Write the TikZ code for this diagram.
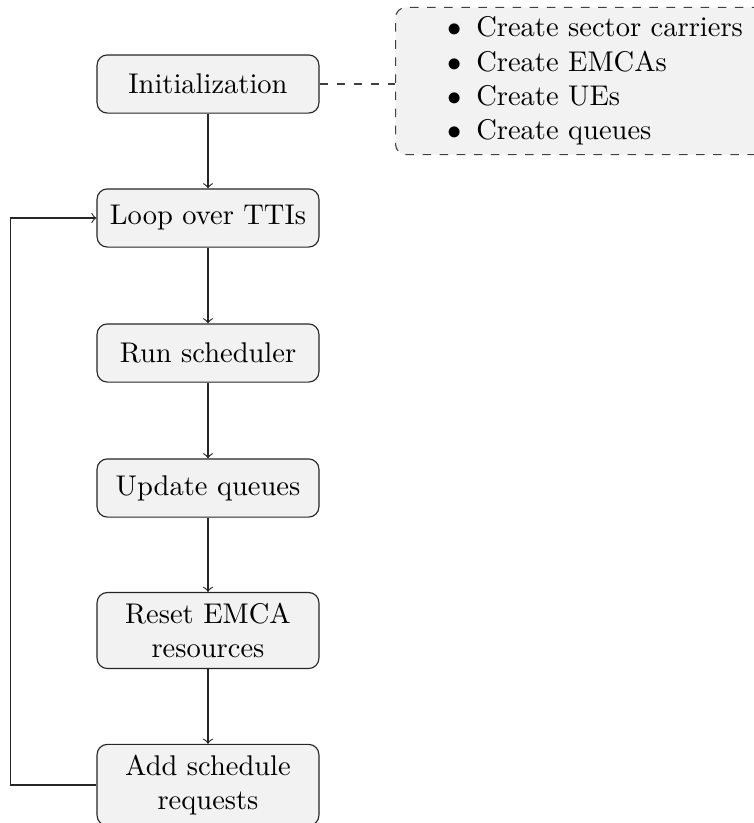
\documentclass[tikz,border=0pt]{standalone}
\usetikzlibrary{positioning}
\begin{document}
\begin{tikzpicture}[x=0.3509pt, y=-0.3509pt,
  stepbox/.style={draw=black!85, fill=black!5, rounded corners=3.6pt, line width=0.4pt,
    text width=71.2pt, align=center, minimum height=20.4pt, inner xsep=3.33pt, inner ysep=3.7pt},
  flow/.style={->, draw=black!85, line width=0.4pt},
  notebox/.style={draw=black!75, dashed, fill=black!5, rounded corners=3.6pt, line width=0.4pt,
    inner sep=3.33pt, align=left, text width=125pt}
]
\useasboundingbox (0,0) rectangle (753,823);
\node[stepbox] (init) at (208,84) {Initialization};
\node[stepbox] (loop) at (208,218) {Loop over TTIs};
\node[stepbox] (run) at (208,353) {Run scheduler};
\node[stepbox] (upd) at (208,488) {Update queues};
\node[stepbox] (reset) at (208,630.5) {Reset EMCA resources};
\node[stepbox] (add) at (208,785) {Add schedule requests};
\node[notebox, anchor=west] (list) at (395,81) {%
  \makebox[20pt][r]{$\bullet$}\hspace{5pt}Create sector carriers\\
  \makebox[20pt][r]{$\bullet$}\hspace{5pt}Create EMCAs\\
  \makebox[20pt][r]{$\bullet$}\hspace{5pt}Create UEs\\
  \makebox[20pt][r]{$\bullet$}\hspace{5pt}Create queues};
\draw[dashed, draw=black!75, line width=0.4pt] (init.east) -- (init.east -| list.west);
\draw[flow] (init) -- (loop);
\draw[flow] (loop) -- (run);
\draw[flow] (run) -- (upd);
\draw[flow] (upd) -- (reset);
\draw[flow] (reset) -- (add);
\draw[flow] (add.west) -- ++(-86,0) |- (loop.west);
\end{tikzpicture}
\end{document}
